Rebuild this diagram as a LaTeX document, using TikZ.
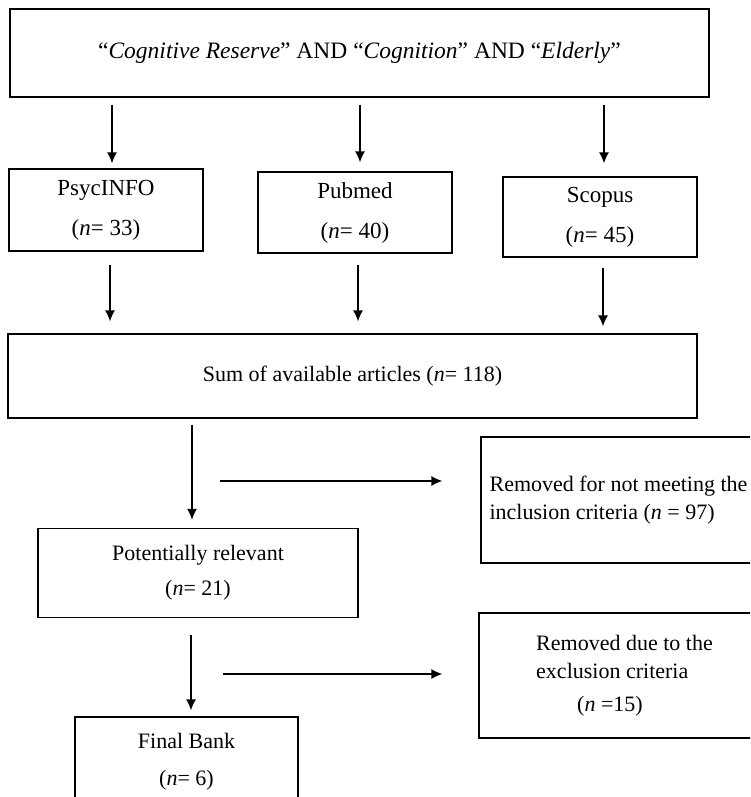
\documentclass[tikz,border=0pt]{standalone}
\usepackage{fontspec}
\setmainfont{Liberation Serif}
\usepackage{tikz}
\usetikzlibrary{arrows.meta}

\begin{document}
\begin{tikzpicture}[->,>={Latex[length=11pt,width=10pt]},x=1pt,y=-1pt,line width=1.3pt,font=\fontsize{22}{26}\selectfont]
\tikzstyle{box}=[draw=black,rectangle,align=center]
\tikzstyle{source}=[box,minimum width=194pt,font=\fontsize{23}{27}\selectfont]
\useasboundingbox (0,0) rectangle (750,797);
\clip (0,0) rectangle (750,797);
\node[box,minimum width=699pt,minimum height=88pt,font=\fontsize{23.5}{28}\selectfont] (query) at (359.5,53) {“\textit{Cognitive Reserve}” AND “\textit{Cognition}” AND “\textit{Elderly}”};
\node[source,minimum height=82pt] (psyc) at (106,210) {PsycINFO\\[13pt](\textit{n}= 33)};
\node[source,minimum height=81pt] (pubmed) at (355,212.5) {Pubmed\\[13pt](\textit{n}= 40)};
\node[source,minimum height=80pt] (scopus) at (600,217) {Scopus\\[13pt](\textit{n}= 45)};
\node[box,minimum width=689pt,minimum height=84pt] (total) at (352.5,376) {Sum of available articles (\textit{n}= 118)};
\node[box,minimum width=275pt,minimum height=126pt,align=left] (incl) at (618.5,500) {Removed for not meeting the\\[2pt]inclusion criteria (\textit{n} = 97)};
\node[box,minimum width=320pt,minimum height=89pt] (relevant) at (198,573) {Potentially relevant\\[9pt](\textit{n}= 21)};
\node[box,minimum width=291pt,minimum height=125pt,align=left] (excl) at (624.5,675.5) {Removed due to the\\[2pt]exclusion criteria\\[7pt]\hspace*{41pt}(\textit{n} =15)};
\node[box,minimum width=223pt,minimum height=90pt] (bank) at (186.5,762) {Final Bank\\[11pt](\textit{n}= 6)};
\coordinate (split1) at (220,481);
\coordinate (split2) at (223,674);

% search engines
\draw[shorten <=7pt,shorten >=5pt] ([xshift=6pt]psyc.north |- query.south) -- ([xshift=6pt]psyc.north);
\draw[shorten <=7pt,shorten >=9pt] ([xshift=5pt]pubmed.north |- query.south) -- ([xshift=5pt]pubmed.north);
\draw[shorten <=7pt,shorten >=13pt] ([xshift=4pt]scopus.north |- query.south) -- ([xshift=4pt]scopus.north);
\draw[shorten <=13pt,shorten >=12pt] ([xshift=4pt]psyc.south) -- ([xshift=4pt]total.north -| psyc.south);
\draw[shorten <=11pt,shorten >=12pt] ([xshift=3pt]pubmed.south) -- ([xshift=3pt]total.north -| pubmed.south);
\draw[shorten <=10pt,shorten >=7pt] ([xshift=3pt]scopus.south) -- ([xshift=3pt]total.north -| scopus.south);

% screening
\draw[shorten <=6pt,shorten >=8pt] ([xshift=-6pt]relevant.north |- total.south) -- ([xshift=-6pt]relevant.north);
\draw[shorten <=17pt,shorten >=6pt] ([xshift=4.5pt]bank.north |- relevant.south) -- ([xshift=4.5pt]bank.north);
\draw[shorten >=38pt] (split1) -- (split1 -| incl.west);
\draw[shorten >=36pt] (split2) -- (split2 -| excl.west);
\end{tikzpicture}
\end{document}
